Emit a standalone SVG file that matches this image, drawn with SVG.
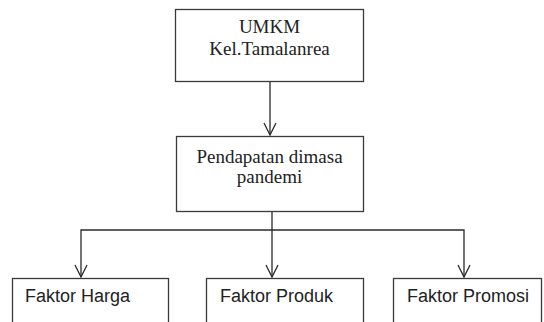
<svg xmlns="http://www.w3.org/2000/svg" width="544" height="322" viewBox="0 0 544 322">
<style>
.box{fill:#fff;stroke:#3a3a3a;stroke-width:1.3}
.serif{font-family:"Liberation Serif",serif;font-size:19px;fill:#222;text-anchor:middle}
.sans{font-family:"Liberation Sans",Arial,sans-serif;font-size:18px;fill:#222}
.ln{fill:none;stroke:#2a2a2a;stroke-width:1.3}
.ah{fill:none;stroke:#2a2a2a;stroke-width:1.3}
</style>
<rect width="544" height="322" fill="#fff"/>
<g id="connectors">
<path class="ln" d="M270,81 V135"/>
<path class="ah" d="M264,123 L270,135 L276,123"/>
<path class="ln" d="M272,211 V277"/>
<path class="ah" d="M266,265 L272,277 L278,265"/>
<path class="ln" d="M81,277 V230 H464 V277"/>
<path class="ah" d="M75,265 L81,277 L87,265"/>
<path class="ah" d="M458,265 L464,277 L470,265"/>
</g>
<g id="umkm">
<rect class="box" x="175.5" y="9.5" width="188" height="72"/>
<text class="serif" x="269.5" y="33">UMKM</text>
<text class="serif" x="269.5" y="55">Kel.Tamalanrea</text>
</g>
<g id="pendapatan">
<rect class="box" x="176.5" y="136.5" width="187" height="75"/>
<text class="serif" x="269.5" y="163">Pendapatan dimasa</text>
<text class="serif" x="269.5" y="183">pandemi</text>
</g>
<g id="harga">
<rect class="box" x="12.5" y="278.5" width="156" height="50"/>
<text class="sans" x="25" y="302">Faktor Harga</text>
</g>
<g id="produk">
<rect class="box" x="206.5" y="278.5" width="157" height="50"/>
<text class="sans" x="220" y="302">Faktor Produk</text>
</g>
<g id="promosi">
<rect class="box" x="393.5" y="278.5" width="148" height="50"/>
<text class="sans" x="407" y="302">Faktor Promosi</text>
</g>
</svg>
